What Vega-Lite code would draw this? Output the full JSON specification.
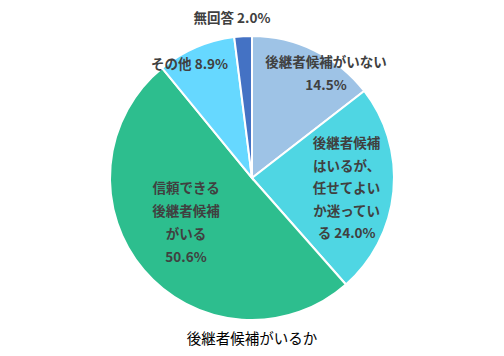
{
  "$schema": "https://vega.github.io/schema/vega-lite/v6.json",
  "width": 504,
  "height": 356,
  "autosize": "none",
  "padding": 0,
  "background": "white",
  "title": {
    "text": "後継者候補がいるか",
    "orient": "bottom",
    "anchor": "middle",
    "offset": -23,
    "font": "Noto Sans CJK JP",
    "fontSize": 14.5,
    "fontWeight": "normal",
    "color": "#000000"
  },
  "data": {
    "values": [
      {"rank": 1, "category": "後継者候補がいない", "value": 14.5, "label": "後継者候補がいない\n14.5%"},
      {"rank": 2, "category": "後継者候補はいるが、任せてよいか迷っている", "value": 24.0, "label": "後継者候補\nはいるが、\n任せてよい\nか迷ってい\nる 24.0%"},
      {"rank": 3, "category": "信頼できる後継者候補がいる", "value": 50.6, "label": "信頼できる\n後継者候補\nがいる\n50.6%"},
      {"rank": 4, "category": "その他", "value": 8.9, "label": "その他 8.9%"},
      {"rank": 5, "category": "無回答", "value": 2.0, "label": "無回答 2.0%"}
    ]
  },
  "encoding": {
    "theta": {"field": "value", "type": "quantitative", "stack": true},
    "order": {"field": "rank", "type": "quantitative"}
  },
  "layer": [
    {
      "mark": {"type": "arc", "outerRadius": 142, "stroke": "white", "strokeWidth": 2},
      "encoding": {
        "color": {
          "field": "category",
          "type": "nominal",
          "legend": null,
          "scale": {
            "domain": ["後継者候補がいない", "後継者候補はいるが、任せてよいか迷っている", "信頼できる後継者候補がいる", "その他", "無回答"],
            "range": ["#9EC3E6", "#4FD6E3", "#2DBE8E", "#66D8FF", "#4472C4"]
          }
        }
      }
    },
    {
      "mark": {"type": "text", "radius": 125, "dx": 19, "dy": -3, "lineBreak": "\n", "lineHeight": 23, "font": "Noto Sans CJK JP", "fontSize": 13.5, "fontWeight": "bold", "color": "#404040", "align": "center", "baseline": "middle"},
      "encoding": {"text": {"condition": {"test": "datum.rank == 1", "field": "label"}, "value": ""}}
    },
    {
      "mark": {"type": "text", "radius": 96, "dx": -1, "dy": -43, "lineBreak": "\n", "lineHeight": 22.5, "font": "Noto Sans CJK JP", "fontSize": 13.5, "fontWeight": "bold", "color": "#404040", "align": "center", "baseline": "middle"},
      "encoding": {"text": {"condition": {"test": "datum.rank == 2", "field": "label"}, "value": ""}}
    },
    {
      "mark": {"type": "text", "radius": 80, "dx": -5, "dy": -41, "lineBreak": "\n", "lineHeight": 23, "font": "Noto Sans CJK JP", "fontSize": 13.5, "fontWeight": "bold", "color": "#404040", "align": "center", "baseline": "middle"},
      "encoding": {"text": {"condition": {"test": "datum.rank == 3", "field": "label"}, "value": ""}}
    },
    {
      "mark": {"type": "text", "radius": 128, "dx": -12, "dy": 5, "font": "Noto Sans CJK JP", "fontSize": 13.5, "fontWeight": "bold", "color": "#404040", "align": "center", "baseline": "middle"},
      "encoding": {"text": {"condition": {"test": "datum.rank == 4", "field": "label"}, "value": ""}}
    },
    {
      "mark": {"type": "text", "radius": 160, "dx": -10, "dy": 1, "font": "Noto Sans CJK JP", "fontSize": 13.5, "fontWeight": "bold", "color": "#404040", "align": "center", "baseline": "middle"},
      "encoding": {"text": {"condition": {"test": "datum.rank == 5", "field": "label"}, "value": ""}}
    }
  ],
  "config": {"view": {"stroke": null}}
}
